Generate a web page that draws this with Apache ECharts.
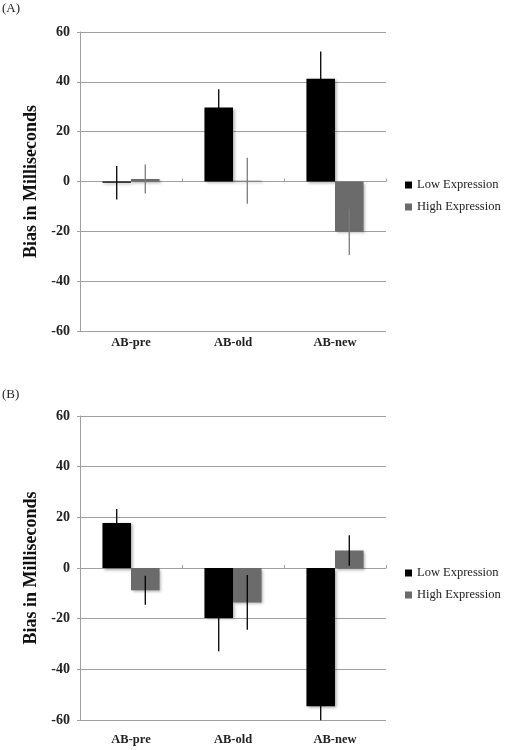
<!DOCTYPE html>
<html>
<head>
<meta charset="utf-8">
<script src="https://cdn.jsdelivr.net/npm/echarts@6/dist/echarts.min.js"></script>
<style>
html,body{margin:0;padding:0;background:#fff;}
#chart{width:505px;height:750px;}
</style>
</head>
<body>
<div id="chart"></div>
<script>
// ---- data ----
const categories = ['AB-pre', 'AB-old', 'AB-new'];
const seriesNames = ['Low Expression', 'High Expression'];
const yTicks = [-60, -40, -20, 0, 20, 40, 60];
// Panel A
const lowA = [-0.5, 29.7, 41.2];
const lowAErr = [6.7, 7.3, 11.0];
const highA = [1.0, 0.3, -20.2];
const highAErr = [5.8, 9.2, 9.3];
// Panel B
const lowB = [17.8, -19.7, -54.6];
const lowBErr = [5.5, 13.2, 5.5];
const highB = [-8.8, -13.6, 6.9];
const highBErr = [5.7, 10.8, 6.0];

const panelLabels = ['(A)', '(B)'];
const yTitle = 'Bias in Milliseconds';

const serif = '"Liberation Serif", "DejaVu Serif", serif';
const gridColor = '#a0a0a0';
const lowColor = '#000000';
const highColor = '#6b6b6b';
const BAR_W = 0.28;

const chart = echarts.init(document.getElementById('chart'), null, {renderer: 'canvas'});

const grids = [
  {left: 80, width: 306, top: 32, height: 299},
  {left: 80, width: 306, top: 416, height: 304}
];
const labelMargins = [5, 13];

const xAxes = [], yAxes = [], series = [], legends = [];
grids.forEach((g, i) => {
  xAxes.push({
    type: 'category', gridIndex: i, data: categories, position: 'bottom',
    axisLine: {show: false, onZero: false}, axisTick: {show: false},
    axisLabel: {fontFamily: serif, fontWeight: 'bold', fontSize: 12.5, color: '#222', margin: labelMargins[i]}
  });
  xAxes.push({
    type: 'category', gridIndex: i, data: categories,
    axisLine: {show: true, onZero: true, lineStyle: {color: gridColor, width: 1}},
    axisTick: {show: true, length: 3, lineStyle: {color: gridColor}},
    axisLabel: {show: false}
  });
  yAxes.push({
    type: 'value', gridIndex: i, min: -60, max: 60, interval: 20,
    name: yTitle, nameLocation: 'middle', nameGap: 40,
    nameTextStyle: {fontFamily: serif, fontWeight: 'bold', fontSize: 18, color: '#111'},
    axisLine: {show: true, lineStyle: {color: gridColor}},
    axisTick: {show: true, length: 3, lineStyle: {color: gridColor}},
    splitLine: {show: true, lineStyle: {color: gridColor, width: 1}},
    axisLabel: {fontFamily: serif, fontWeight: 'bold', fontSize: 14, color: '#222', margin: 10,
      formatter: v => yTicks.includes(v) ? String(v) : ''}
  });
});

const panels = [
  {low: lowA, lowErr: lowAErr, high: highA, highErr: highAErr, lowErrColor: '#000', highErrColor: '#7c7c7c'},
  {low: lowB, lowErr: lowBErr, high: highB, highErr: highBErr, lowErrColor: '#000', highErrColor: '#000'}
];

const shadow = {shadowBlur: 3, shadowColor: 'rgba(0,0,0,0.35)', shadowOffsetX: 1.5, shadowOffsetY: 1.5};

panels.forEach((p, i) => {
  const xi = i * 2, yi = i;
  series.push({
    name: seriesNames[0], type: 'bar', xAxisIndex: xi, yAxisIndex: yi,
    data: p.low, barWidth: (BAR_W * 100) + '%', barGap: '0%',
    itemStyle: Object.assign({color: lowColor}, shadow), z: 2
  });
  series.push({
    name: seriesNames[1], type: 'bar', xAxisIndex: xi, yAxisIndex: yi,
    data: p.high, barWidth: (BAR_W * 100) + '%', barGap: '0%',
    itemStyle: Object.assign({color: highColor}, shadow), z: 2
  });
  const mkErr = (vals, errs, dir, color) => ({
    type: 'custom', xAxisIndex: xi, yAxisIndex: yi, z: 5, silent: true,
    data: vals.map((v, k) => [k, v, errs[k]]),
    renderItem: (params, api) => {
      const k = api.value(0), v = api.value(1), e = api.value(2);
      const band = api.size([1, 0])[0];
      const off = dir * band * BAR_W / 2;
      const top = api.coord([k, v + e]);
      const bot = api.coord([k, v - e]);
      return {
        type: 'line',
        shape: {x1: top[0] + off, y1: top[1], x2: bot[0] + off, y2: bot[1]},
        style: {stroke: color, lineWidth: 1.3}
      };
    }
  });
  series.push(mkErr(p.low, p.lowErr, -1, p.lowErrColor));
  series.push(mkErr(p.high, p.highErr, 1, p.highErrColor));
});

const legendTops = [178, 566];
legendTops.forEach(t => {
  legends.push({
    orient: 'vertical', left: 405, top: t, data: seriesNames,
    itemWidth: 7, itemHeight: 7, itemGap: 8, icon: 'rect', padding: 0,
    textStyle: {fontFamily: serif, fontSize: 12.5, color: '#222', lineHeight: 14},
    selectedMode: false
  });
});

chart.setOption({
  animation: false,
  backgroundColor: '#fff',
  grid: grids,
  xAxis: xAxes,
  yAxis: yAxes,
  legend: legends,
  series: series,
  graphic: [
    {type: 'text', left: 2, top: 2, style: {text: panelLabels[0], font: '13px ' + serif, fill: '#222'}},
    {type: 'text', left: 2, top: 388, style: {text: panelLabels[1], font: '13px ' + serif, fill: '#222'}}
  ]
});
</script>
</body>
</html>
